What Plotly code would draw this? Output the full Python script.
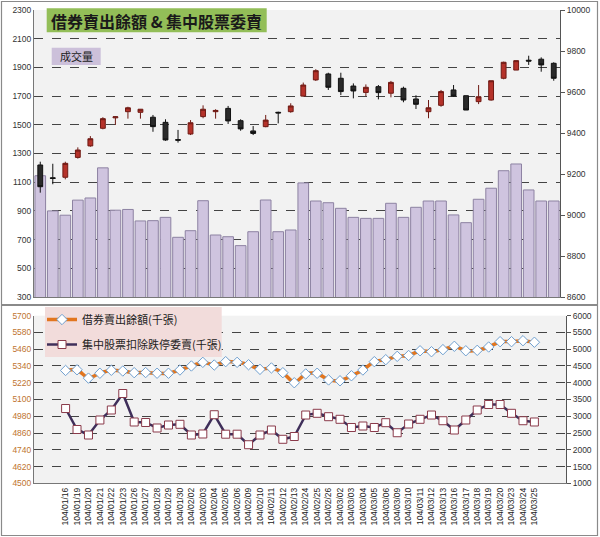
import plotly.graph_objects as go

dates = ["104/01/16","104/01/19","104/01/20","104/01/21","104/01/22","104/01/23","104/01/26","104/01/27",
         "104/01/28","104/01/29","104/01/30","104/02/02","104/02/03","104/02/04","104/02/05","104/02/06",
         "104/02/09","104/02/10","104/02/11","104/02/12","104/02/13","104/02/24","104/02/25","104/02/26",
         "104/03/02","104/03/03","104/03/04","104/03/05","104/03/06","104/03/09","104/03/10","104/03/11",
         "104/03/12","104/03/13","104/03/16","104/03/17","104/03/18","104/03/19","104/03/20","104/03/23",
         "104/03/24","104/03/25"]

volume = [1145, 900, 870, 975, 990, 1200, 905, 910, 830, 832, 855, 716, 762, 971, 732, 720, 658, 755, 976, 755,
          767, 1095, 969, 957, 918, 855, 848, 848, 953, 855, 925, 969, 969, 872, 818, 981, 1058, 1180, 1227,
          1046, 969, 969]

idx_open  = [9244, 9182, 9184, 9281, 9337, 9423, 9474, 9504, 9501, 9477, 9452, 9368, 9395, 9480, 9504, 9520,
             9460, 9410, 9431, 9501, 9504, 9580, 9659, 9688, 9667, 9629, 9598, 9626, 9594, 9618, 9566, 9504,
             9535, 9610, 9582, 9553, 9561, 9667, 9707, 9755, 9760, 9740]
idx_high  = [9260, 9250, 9260, 9330, 9385, 9477, 9482, 9528, 9516, 9488, 9467, 9415, 9463, 9535, 9516, 9532,
             9467, 9434, 9488, 9504, 9545, 9646, 9711, 9694, 9694, 9642, 9637, 9634, 9654, 9626, 9584, 9561,
             9610, 9634, 9582, 9634, 9655, 9748, 9753, 9777, 9769, 9745]
idx_low   = [9109, 9150, 9174, 9275, 9333, 9418, 9439, 9470, 9470, 9406, 9362, 9353, 9390, 9472, 9470, 9444,
             9411, 9390, 9428, 9447, 9499, 9577, 9654, 9610, 9585, 9569, 9580, 9564, 9574, 9550, 9517, 9472,
             9528, 9577, 9512, 9541, 9558, 9662, 9707, 9732, 9699, 9655]
idx_close = [9138, 9178, 9252, 9317, 9372, 9470, 9479, 9523, 9516, 9431, 9366, 9365, 9450, 9516, 9510, 9459,
             9420, 9398, 9463, 9498, 9532, 9634, 9704, 9623, 9602, 9605, 9623, 9597, 9647, 9561, 9540, 9523,
             9602, 9580, 9512, 9577, 9655, 9745, 9753, 9751, 9732, 9667]

short_balance = [5308, 5313, 5253, 5288, 5309, 5304, 5292, 5293, 5288, 5288, 5311, 5340, 5366, 5347, 5371,
                 5366, 5349, 5316, 5326, 5292, 5220, 5283, 5288, 5240, 5234, 5270, 5311, 5371, 5385, 5409,
                 5415, 5449, 5442, 5457, 5481, 5449, 5452, 5476, 5514, 5514, 5521, 5510]
sell_orders = [3231, 2605, 2441, 2888, 3187, 3679, 2829, 2814, 2650, 2739, 2760, 2441, 2471, 3046, 2465, 2465,
               2151, 2441, 2590, 2313, 2396, 3037, 3088, 2987, 2909, 2665, 2709, 2665, 2808, 2509, 2769, 2909,
               3037, 2867, 2590, 2888, 3187, 3351, 3351, 3088, 2867, 2829]

W, H = 600, 537
def px(x): return x / W
def py(y): return 1 - y / H

TICKFONT = dict(family="Liberation Sans, Arial", size=8.5, color="#333333")
CJK = "Noto Sans CJK TC"

fig = go.Figure()

fig.add_trace(go.Bar(x=dates, y=volume, xaxis="x", yaxis="y",
                     marker=dict(color="#cfc4df", line=dict(color="#8d82a2", width=1)),
                     showlegend=False))
fig.add_trace(go.Candlestick(x=dates, open=idx_open, high=idx_high, low=idx_low, close=idx_close,
                             xaxis="x", yaxis="y2", showlegend=False, whiskerwidth=0,
                             increasing=dict(line=dict(color="#6e1a14", width=1), fillcolor="#b5322a"),
                             decreasing=dict(line=dict(color="#111111", width=1), fillcolor="#2a2a2a")))

fig.add_trace(go.Scatter(x=dates, y=short_balance, xaxis="x2", yaxis="y3", mode="lines+markers",
                         name="借券賣出餘額(千張)", legendgroup="a",
                         line=dict(color="#e2761f", width=3.5, shape="spline", smoothing=0.6),
                         marker=dict(symbol="diamond", size=8, color="white",
                                     line=dict(color="#6f9fcf", width=1))))
fig.add_trace(go.Scatter(x=dates, y=sell_orders, xaxis="x2", yaxis="y4", mode="lines+markers",
                         name="集中股票扣除跌停委賣(千張)", legendgroup="b",
                         line=dict(color="#3f2f5a", width=2.5),
                         marker=dict(symbol="square", size=8, color="white",
                                     line=dict(color="#8a3a4a", width=1))))

grid = dict(showgrid=True, gridcolor="#444444", griddash="dash", gridwidth=1)

fig.update_layout(
    width=W, height=H, margin=dict(l=0, r=0, t=0, b=0, autoexpand=False),
    paper_bgcolor="white", plot_bgcolor="#f2f2f2",
    bargap=0.15, boxgap=0.45,
    xaxis=dict(domain=[px(34), px(560)], anchor="y", type="category", showticklabels=False,
               showgrid=False, showline=True, linecolor="#777777", rangeslider=dict(visible=False),
               automargin=False),
    yaxis=dict(domain=[py(297), py(10)], anchor="x", range=[300, 2300], dtick=200, tick0=300,
               tickfont=TICKFONT, showline=True, linecolor="#777777", zeroline=False,
               automargin=False, **grid),
    yaxis2=dict(overlaying="y", anchor="x", side="right", range=[8600, 10000], dtick=200,
                tickformat="d", tickfont=TICKFONT, showgrid=False, zeroline=False, showline=True,
                linecolor="#555555", ticks="outside", ticklen=4, tickcolor="#555555", automargin=False),
    xaxis2=dict(domain=[px(34), px(566)], anchor="y3", type="category", tickangle=-90, dtick=1,
                tickfont=dict(family="Liberation Sans, Arial", size=8.5, color="#222222"),
                showgrid=False, showline=True, linecolor="#777777", automargin=False),
    yaxis3=dict(domain=[py(483.3), py(315.7)], anchor="x2", range=[4500, 5700], dtick=120, tick0=4500,
                tickfont=dict(family="Liberation Sans, Arial", size=8.5, color="#c0742f"),
                showline=True, linecolor="#777777", zeroline=False, automargin=False, **grid),
    yaxis4=dict(overlaying="y3", anchor="x2", side="right", range=[1000, 6000], dtick=500,
                tickformat="d", tickfont=TICKFONT, showgrid=False, zeroline=False, showline=True,
                linecolor="#555555", ticks="outside", ticklen=4, tickcolor="#555555", automargin=False),
    legend=dict(x=px(42), y=py(305), xanchor="left", yanchor="top", bgcolor="rgba(0,0,0,0)",
                font=dict(family=CJK, size=11, color="#222222"), tracegroupgap=6,
                traceorder="grouped"),
    showlegend=True,
)

shapes = [
    dict(type="rect", xref="paper", yref="paper", x0=px(1.5), x1=px(597.5), y0=py(304.5), y1=py(1.5),
         line=dict(color="#8a8a8a", width=1.2), fillcolor="rgba(0,0,0,0)", layer="below"),
    dict(type="rect", xref="paper", yref="paper", x0=px(1.5), x1=px(597.5), y0=py(535.5), y1=py(305.5),
         line=dict(color="#8a8a8a", width=1.2), fillcolor="rgba(0,0,0,0)", layer="below"),
    dict(type="rect", xref="paper", yref="paper", x0=px(46.7), x1=px(266.7), y0=py(32.3), y1=py(8.3),
         line=dict(width=0), fillcolor="#93be58", layer="above"),
    dict(type="rect", xref="paper", yref="paper", x0=px(51.7), x1=px(100.7), y0=py(65), y1=py(47.7),
         line=dict(width=0), fillcolor="#ccc0da", layer="above"),
    dict(type="rect", xref="paper", yref="paper", x0=px(45), x1=px(221.7), y0=py(357), y1=py(307),
         line=dict(width=0), fillcolor="#f2dcdb", layer="above"),
]
fig.update_layout(shapes=shapes)

fig.add_annotation(x=px(156.7), y=py(20.5), xref="paper", yref="paper", showarrow=False,
                   xanchor="center", yanchor="middle",
                   text="<b>借券賣出餘額 & 集中股票委賣</b>",
                   font=dict(family=CJK, size=16, color="#1a1a1a"))
fig.add_annotation(x=px(76), y=py(56.5), xref="paper", yref="paper", showarrow=False,
                   xanchor="center", yanchor="middle",
                   text="成交量", font=dict(family=CJK, size=11, color="#222222"))

fig.write_html("out.html", config={"displayModeBar": False},
               post_script="document.body.style.margin='0px';document.body.style.overflow='hidden';")
